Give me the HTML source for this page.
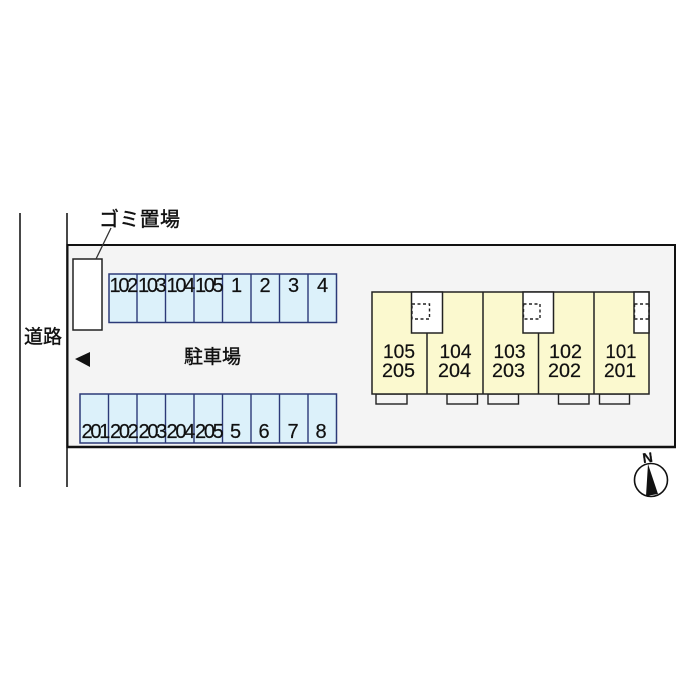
<!DOCTYPE html>
<html lang="ja">
<head>
<meta charset="utf-8">
<style>
html,body{margin:0;padding:0;background:#fff}
svg{display:block}
text{font-family:"Liberation Sans","Noto Sans CJK JP",sans-serif;fill:#111;stroke:#111;stroke-width:.2px}
</style>
</head>
<body>
<svg width="700" height="700" viewBox="0 0 700 700" xmlns="http://www.w3.org/2000/svg">
<rect width="700" height="700" fill="#fff"/>
<!-- road -->
<line x1="20" y1="213" x2="20" y2="487" stroke="#333" stroke-width="1.800"/>
<line x1="67" y1="213" x2="67" y2="487" stroke="#333" stroke-width="1.800"/>
<!-- lot -->
<rect x="67.500" y="245" width="607.500" height="202" fill="#f4f4f4" stroke="#111" stroke-width="2"/>
<line x1="67" y1="447" x2="676" y2="447" stroke="#111" stroke-width="2.500"/>
<!-- trash -->
<rect x="73" y="259" width="29" height="71" fill="#fff" stroke="#222" stroke-width="1.500"/>
<line x1="96" y1="259" x2="111" y2="228" stroke="#333" stroke-width="1.300"/>
<text x="99" y="226" font-size="20" textLength="81" lengthAdjust="spacing" style="stroke-width:.4px">ゴミ置場</text>
<text x="24" y="343" font-size="19" style="stroke-width:.4px">道路</text>
<text x="184" y="363" font-size="19" style="stroke-width:.4px">駐車場</text>
<polygon points="75,359 90,352 90,367" fill="#111"/>
<!-- upper parking -->
<rect x="109" y="274" width="227.500" height="48.500" fill="#dcf1fa" stroke="#2c3a78" stroke-width="1.500"/>
<g stroke="#2c3a78" stroke-width="1.400">
<line x1="137" y1="274" x2="137" y2="322.500"/>
<line x1="165.500" y1="274" x2="165.500" y2="322.500"/>
<line x1="194" y1="274" x2="194" y2="322.500"/>
<line x1="222.500" y1="274" x2="222.500" y2="322.500"/>
<line x1="251" y1="274" x2="251" y2="322.500"/>
<line x1="279.500" y1="274" x2="279.500" y2="322.500"/>
<line x1="308" y1="274" x2="308" y2="322.500"/>
</g>
<g font-size="20" letter-spacing="-2.300">
<text x="109.500" y="292">102</text>
<text x="138" y="292">103</text>
<text x="166.500" y="292">104</text>
<text x="195" y="292">105</text>
</g>
<g font-size="20" text-anchor="middle">
<text x="236.500" y="292">1</text>
<text x="265" y="292">2</text>
<text x="293.500" y="292">3</text>
<text x="322.500" y="292">4</text>
</g>
<!-- lower parking -->
<rect x="80" y="394" width="256.500" height="49" fill="#dcf1fa" stroke="#2c3a78" stroke-width="1.500"/>
<g stroke="#2c3a78" stroke-width="1.400">
<line x1="108.500" y1="394" x2="108.500" y2="443"/>
<line x1="137" y1="394" x2="137" y2="443"/>
<line x1="165.500" y1="394" x2="165.500" y2="443"/>
<line x1="194" y1="394" x2="194" y2="443"/>
<line x1="222.500" y1="394" x2="222.500" y2="443"/>
<line x1="251" y1="394" x2="251" y2="443"/>
<line x1="279.500" y1="394" x2="279.500" y2="443"/>
<line x1="308" y1="394" x2="308" y2="443"/>
</g>
<g font-size="20" letter-spacing="-2.300">
<text x="81.500" y="438">201</text>
<text x="110" y="438">202</text>
<text x="138.500" y="438">203</text>
<text x="166.500" y="438">204</text>
<text x="195" y="438">205</text>
</g>
<g font-size="20" text-anchor="middle">
<text x="235.500" y="438">5</text>
<text x="264" y="438">6</text>
<text x="293" y="438">7</text>
<text x="321" y="438">8</text>
</g>
<!-- balconies -->
<g fill="#f4f4f4" stroke="#222" stroke-width="1.400">
<rect x="376" y="394" width="31" height="10"/>
<rect x="447" y="394" width="30.500" height="10"/>
<rect x="488" y="394" width="30.500" height="10"/>
<rect x="558.500" y="394" width="30.500" height="10"/>
<rect x="599.500" y="394" width="30" height="10"/>
</g>
<!-- building -->
<rect x="372" y="292" width="277" height="102" fill="#fbf9cf" stroke="#222" stroke-width="1.500"/>
<g fill="#fff" stroke="#222" stroke-width="1.500">
<rect x="411.500" y="292" width="31" height="41"/>
<rect x="523" y="292" width="30.500" height="41"/>
<rect x="634" y="292" width="15" height="41"/>
</g>
<g stroke="#222" stroke-width="1.500">
<line x1="427" y1="333" x2="427" y2="394"/>
<line x1="483" y1="292" x2="483" y2="394"/>
<line x1="538.500" y1="333" x2="538.500" y2="394"/>
<line x1="594" y1="292" x2="594" y2="394"/>
</g>
<g fill="none" stroke="#222" stroke-width="1.400" stroke-dasharray="3 2.500">
<rect x="412" y="304" width="17.500" height="15"/>
<rect x="523.500" y="304" width="16.500" height="15"/>
<path d="M634.500 304H649M634.500 319H649M634.500 304V319M649 304V319"/>
</g>
<g font-size="19.500">
<text x="383" y="358" textLength="32" lengthAdjust="spacingAndGlyphs">105</text><text x="382" y="377" textLength="33" lengthAdjust="spacingAndGlyphs">205</text>
<text x="439.500" y="358" textLength="32" lengthAdjust="spacingAndGlyphs">104</text><text x="438" y="377" textLength="33" lengthAdjust="spacingAndGlyphs">204</text>
<text x="493.500" y="358" textLength="32" lengthAdjust="spacingAndGlyphs">103</text><text x="492" y="377" textLength="33" lengthAdjust="spacingAndGlyphs">203</text>
<text x="549" y="358" textLength="33" lengthAdjust="spacingAndGlyphs">102</text><text x="548" y="377" textLength="33" lengthAdjust="spacingAndGlyphs">202</text>
<text x="605.500" y="358" textLength="31" lengthAdjust="spacingAndGlyphs">101</text><text x="604" y="377" textLength="32" lengthAdjust="spacingAndGlyphs">201</text>
</g>
<!-- compass -->
<circle cx="651" cy="480" r="16.500" fill="#fff" stroke="#111" stroke-width="1.600"/>
<polygon points="648,464 646,496 658,494" fill="#111"/>
<text x="647.500" y="462.500" font-size="14" font-weight="bold" text-anchor="middle" transform="rotate(-8 647.500 457)">N</text>
</svg>
</body>
</html>
